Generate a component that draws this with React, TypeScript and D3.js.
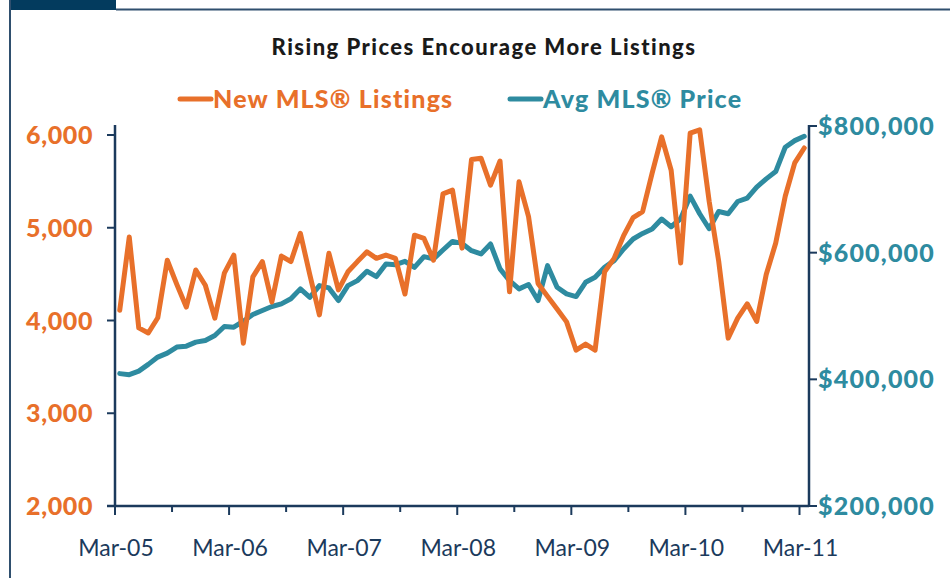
import { useRef, useEffect } from "react";
import * as d3 from "d3";

const TITLE = "Rising Prices Encourage More Listings";
const SERIES_NAMES = ["New MLS® Listings", "Avg MLS® Price"];

// monthly, Mar-05 .. Mar-11
const months = d3.timeMonth.range(new Date(2005, 2, 1), new Date(2011, 3, 1));

const listings = [
  4110, 4900, 3920, 3865, 4030, 4650, 4390, 4145, 4545, 4380, 4025, 4510,
  4705, 3755, 4470, 4635, 4200, 4695, 4635, 4940, 4490, 4060, 4725, 4330,
  4525, 4635, 4740, 4670, 4705, 4670, 4285, 4920, 4885, 4650, 5365, 5405,
  4780, 5735, 5750, 5460, 5720, 4310, 5495, 5120, 4400, 4260, 4125, 3985,
  3680, 3745, 3680, 4525, 4670, 4915, 5110, 5175, 5590, 5980, 5620, 4620,
  6020, 6055, 5285, 4640, 3810, 4025, 4180, 3990, 4495, 4835, 5340, 5700,
  5860,
];

const avgPrice = [
  409000, 407400, 413000, 423600, 435100, 441400, 450900, 452400, 458700, 461400, 469300, 483500,
  482400, 491800, 502400, 508700, 515000, 519200, 527100, 542800, 529600, 548000, 544400, 524400,
  548000, 555900, 570600, 562200, 582200, 581100, 586300, 576900, 593700, 590100, 604200, 617800,
  614600, 603100, 598000, 613700, 574300, 555900, 542800, 549600, 524400, 579500, 545400, 535000,
  530700, 553200, 561100, 576900, 587400, 605800, 621600, 630400, 637300, 653100, 640900, 653500,
  689300, 661400, 637800, 665000, 661400, 680800, 686100, 703500, 716500, 728000, 766400, 776900,
  783800,
];

const leftTicks = [2000, 3000, 4000, 5000, 6000];
const rightTicks = [200000, 400000, 600000, 800000];
const xTickLabels = ["Mar-05", "Mar-06", "Mar-07", "Mar-08", "Mar-09", "Mar-10", "Mar-11"];

const COLORS = {
  listings: "#E8702A",
  price: "#2E8BA0",
  axis: "#1B3A5C",
  frame: "#2F4F6E",
  block: "#033B5E",
  title: "#1A1A1A",
};

const FONT = "Lato, 'Open Sans', sans-serif";

export default function App() {
  const svgRef = useRef<SVGSVGElement>(null);
  const width = 950;
  const height = 578;

  useEffect(() => {
    if (!svgRef.current) return;
    const svg = d3.select(svgRef.current);
    svg.selectAll("*").remove();

    const left = 115;
    const right = 809;
    const top = 126;
    const bottom = 506;

    const x = d3
      .scaleBand<number>()
      .domain(months.map((_, i) => i))
      .range([left, right])
      .paddingInner(0)
      .paddingOuter(0);
    const cx = (i: number) => (x(i) ?? 0) + x.bandwidth() / 2;

    const yL = d3.scaleLinear().domain([2000, 6000]).range([bottom, 135]);
    const yR = d3.scaleLinear().domain([200000, 800000]).range([bottom, top]);

    // frame
    svg.append("rect").attr("x", 9).attr("y", 0).attr("width", 107).attr("height", 10).attr("fill", COLORS.block);
    svg.append("line").attr("x1", 116).attr("x2", width).attr("y1", 9.5).attr("y2", 9.5)
      .attr("stroke", COLORS.frame).attr("stroke-width", 2);
    svg.append("line").attr("x1", 10).attr("x2", 10).attr("y1", 0).attr("y2", height)
      .attr("stroke", COLORS.frame).attr("stroke-width", 2);

    // title
    svg.append("text")
      .attr("x", 484).attr("y", 55)
      .attr("text-anchor", "middle")
      .attr("font-family", FONT).attr("font-weight", 900).attr("font-size", 22)
      .attr("letter-spacing", 1.45)
      .attr("fill", COLORS.title)
      .text(TITLE);

    // legend
    const legend = [
      { name: SERIES_NAMES[0], color: COLORS.listings, x0: 180 },
      { name: SERIES_NAMES[1], color: COLORS.price, x0: 510 },
    ];
    legend.forEach((l) => {
      svg.append("line").attr("x1", l.x0).attr("x2", l.x0 + 31).attr("y1", 99).attr("y2", 99)
        .attr("stroke", l.color).attr("stroke-width", 5).attr("stroke-linecap", "round");
      svg.append("text")
        .attr("x", l.x0 + 33).attr("y", 107.5)
        .attr("font-family", FONT).attr("font-weight", 900).attr("font-size", 25)
        .attr("letter-spacing", 1.2)
        .attr("fill", l.color)
        .text(l.name);
    });

    // axes lines
    const g = svg.append("g");
    g.append("line").attr("x1", left).attr("x2", left).attr("y1", top - 1).attr("y2", bottom)
      .attr("stroke", COLORS.axis).attr("stroke-width", 2.5);
    g.append("line").attr("x1", right).attr("x2", right).attr("y1", top - 1).attr("y2", bottom + 1)
      .attr("stroke", COLORS.axis).attr("stroke-width", 2.5);
    g.append("line").attr("x1", left - 8).attr("x2", right).attr("y1", bottom).attr("y2", bottom)
      .attr("stroke", COLORS.axis).attr("stroke-width", 2.5);

    // left ticks + labels
    leftTicks.forEach((t) => {
      g.append("line").attr("x1", left - 8).attr("x2", left).attr("y1", yL(t)).attr("y2", yL(t))
        .attr("stroke", COLORS.axis).attr("stroke-width", 2);
      g.append("text")
        .attr("x", 93).attr("y", yL(t)).attr("dy", "0.36em")
        .attr("text-anchor", "end")
        .attr("font-family", FONT).attr("font-weight", 900).attr("font-size", 25)
        .attr("letter-spacing", 0.6)
        .attr("fill", COLORS.listings)
        .text(d3.format(",")(t));
    });

    // right ticks + labels
    rightTicks.forEach((t) => {
      g.append("line").attr("x1", right).attr("x2", right + 8).attr("y1", yR(t)).attr("y2", yR(t))
        .attr("stroke", COLORS.axis).attr("stroke-width", 2);
      g.append("text")
        .attr("x", 818).attr("y", yR(t)).attr("dy", "0.36em")
        .attr("font-family", FONT).attr("font-weight", 900).attr("font-size", 25)
        .attr("letter-spacing", 1.2)
        .attr("fill", COLORS.price)
        .text("$" + d3.format(",")(t));
    });

    // x ticks every 6 months at band starts
    const tickIdx = d3.range(0, months.length, 6);
    tickIdx.forEach((i, k) => {
      const tx = x(i) ?? 0;
      const major = k % 2 === 0;
      g.append("line").attr("x1", tx).attr("x2", tx).attr("y1", bottom).attr("y2", bottom + (major ? 9 : 6))
        .attr("stroke", COLORS.axis).attr("stroke-width", 2);
      if (major) {
        g.append("text")
          .attr("x", tx + 1).attr("y", 556)
          .attr("text-anchor", "middle")
          .attr("font-family", FONT).attr("font-weight", 400).attr("font-size", 23)
          .attr("fill", COLORS.axis)
          .text(xTickLabels[k / 2]);
      }
    });

    // lines
    const priceLine = d3.line<number>().x((_, i) => cx(i)).y((d) => yR(d));
    const listLine = d3.line<number>().x((_, i) => cx(i)).y((d) => yL(d));

    g.append("path").datum(avgPrice)
      .attr("fill", "none").attr("stroke", COLORS.price).attr("stroke-width", 5)
      .attr("stroke-linejoin", "round").attr("stroke-linecap", "round")
      .attr("d", priceLine);

    g.append("path").datum(listings)
      .attr("fill", "none").attr("stroke", COLORS.listings).attr("stroke-width", 5)
      .attr("stroke-linejoin", "round").attr("stroke-linecap", "round")
      .attr("d", listLine);
  }, []);

  return (
    <svg
      ref={svgRef}
      width={width}
      height={height}
      style={{ position: "absolute", left: 0, top: 0, background: "#fff" }}
    />
  );
}
